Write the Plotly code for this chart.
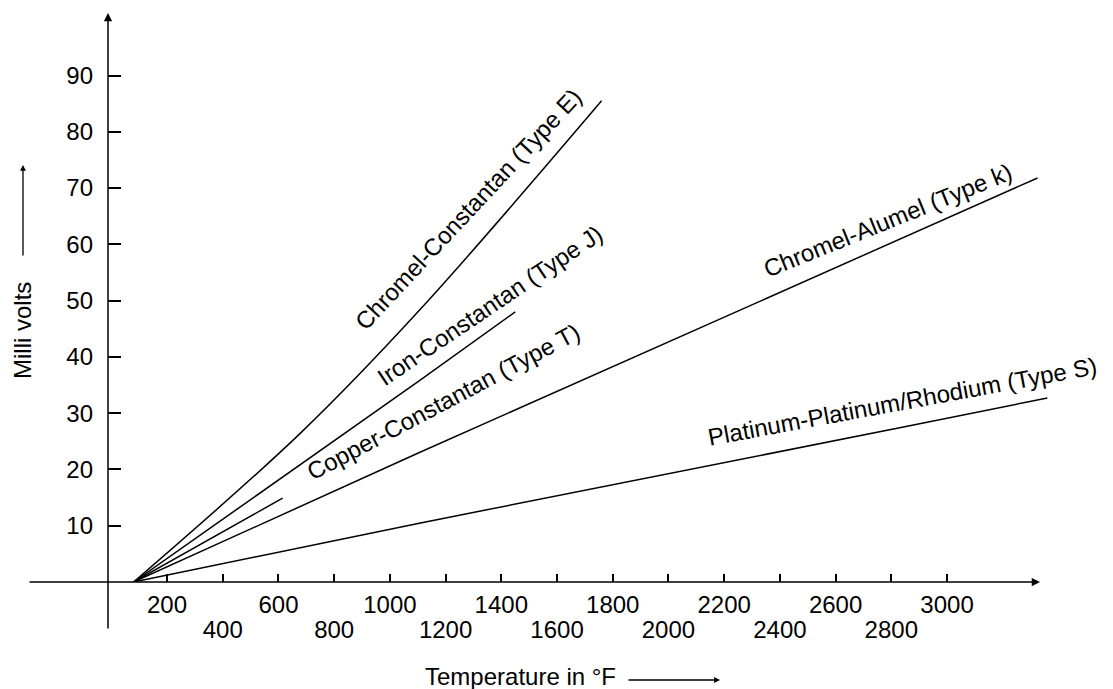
import plotly.graph_objects as go

# thermocouple output curves (temperature in °F, output in mV)
type_e_temp = [80, 680, 1110, 1760]
type_e_mv = [0, 26.5, 48.5, 85.5]

type_j_temp = [80, 1110, 1450]
type_j_mv = [0, 35.9, 48.0]

type_t_temp = [80, 615]
type_t_mv = [0, 14.9]

type_k_temp = [80, 1110, 3325]
type_k_mv = [0, 23.1, 71.8]

type_s_temp = [80, 1110, 2830, 3360]
type_s_mv = [0, 10.5, 27.4, 32.7]

x_upper_ticks = [200, 600, 1000, 1400, 1800, 2200, 2600, 3000]
x_lower_ticks = [400, 800, 1200, 1600, 2000, 2400, 2800]
y_ticks = [10, 20, 30, 40, 50, 60, 70, 80, 90]

labels = [
    ("Chromel-Constantan (Type E)", 1284, 66.3, -47),
    ("Iron-Constantan (Type J)", 1358, 49.2, -34),
    ("Copper-Constantan (Type T)", 1194, 32.0, -28),
    ("Chromel-Alumel (Type k)", 2785, 64.3, -22),
    ("Platinum-Platinum/Rhodium (Type S)", 2840, 32.0, -10.5),
]

FONT = "Liberation Sans, Arial, sans-serif"
X_RANGE = [-11.85, 3595.8]
Y_RANGE = [0, 102.0]

# the page puts the figure 8px in from the top-left corner
OFF = 8
PLOT_L, PLOT_B = 108, 582  # page pixels of the plot's left and bottom edges
PLOT_W, PLOT_H = 1113 - PLOT_L, PLOT_B - OFF


def px(x):
    return (x - PLOT_L) / PLOT_W


def py(y):
    return (PLOT_B - y) / PLOT_H


fig = go.Figure()
series = [
    (type_e_temp, type_e_mv, "spline"),
    (type_j_temp, type_j_mv, "linear"),
    (type_t_temp, type_t_mv, "linear"),
    (type_k_temp, type_k_mv, "linear"),
    (type_s_temp, type_s_mv, "linear"),
]
for xs, ys, shape in series:
    fig.add_trace(
        go.Scatter(x=xs, y=ys, mode="lines",
                   line=dict(color="black", width=1.5, shape=shape, smoothing=1),
                   hoverinfo="skip", showlegend=False)
    )

# invisible trace so the second (staggered label) axis is drawn
fig.add_trace(go.Scatter(x=[x_lower_ticks[0]], y=[0], xaxis="x2", mode="markers",
                         marker=dict(opacity=0), hoverinfo="skip", showlegend=False))

all_x_ticks = sorted(x_upper_ticks + x_lower_ticks)
fig.update_layout(
    width=1113 - OFF,
    height=689 - OFF,
    margin=dict(l=PLOT_L - OFF, r=0, t=0, b=689 - PLOT_B),
    paper_bgcolor="white",
    plot_bgcolor="white",
    font=dict(family=FONT, size=24, color="black"),
    xaxis=dict(
        range=X_RANGE, showgrid=False, zeroline=False, showline=False,
        tickmode="array", tickvals=all_x_ticks,
        ticktext=[str(v) if v in x_upper_ticks else "" for v in all_x_ticks],
        ticks="inside", ticklen=8, tickwidth=1.5, tickcolor="black",
        ticklabelstandoff=6,
    ),
    xaxis2=dict(
        range=X_RANGE, overlaying="x", anchor="y", side="bottom",
        showgrid=False, zeroline=False, showline=False,
        tickmode="array", tickvals=x_lower_ticks,
        ticktext=[str(v) for v in x_lower_ticks],
        ticks="", ticklabelstandoff=31,
    ),
    yaxis=dict(
        range=Y_RANGE, showgrid=False, zeroline=False, showline=False,
        tickmode="array", tickvals=y_ticks,
        ticks="inside", ticklen=13, tickwidth=1.5, tickcolor="black",
        ticklabelstandoff=14,
    ),
)

for text, x, y, ang in labels:
    fig.add_annotation(x=x, y=y, xref="x", yref="y", text=text, textangle=ang,
                       xanchor="center", yanchor="middle",
                       showarrow=False, font=dict(size=24))

# axis lines with arrowheads
fig.add_annotation(x=px(1040), y=py(582), xref="paper", yref="paper", text="",
                   showarrow=True, ax=-(1040 - 28), ay=0, arrowhead=2, arrowsize=1.1,
                   arrowwidth=1.5, arrowcolor="black", standoff=0)
fig.add_annotation(x=px(108), y=py(13), xref="paper", yref="paper", text="",
                   showarrow=True, ax=0, ay=630 - 13, arrowhead=2, arrowsize=1.1,
                   arrowwidth=1.5, arrowcolor="black", standoff=0)

# axis titles
fig.add_annotation(x=px(23), y=py(331), xref="paper", yref="paper",
                   xanchor="center", yanchor="middle",
                   text="Milli volts", textangle=-90, showarrow=False, font=dict(size=24))
fig.add_annotation(x=px(23), y=py(165), xref="paper", yref="paper",
                   text="", showarrow=True, ax=0, ay=257 - 165, arrowhead=2, arrowsize=0.9,
                   arrowwidth=1.3, arrowcolor="black", standoff=0)
fig.add_annotation(x=px(520), y=py(676), xref="paper", yref="paper",
                   xanchor="center", yanchor="middle",
                   text="Temperature in °F", showarrow=False, font=dict(size=24))
fig.add_annotation(x=px(720), y=py(680), xref="paper", yref="paper",
                   text="", showarrow=True, ax=-(720 - 627), ay=0, arrowhead=2, arrowsize=0.9,
                   arrowwidth=1.3, arrowcolor="black", standoff=0)

fig.write_html("out.html")
